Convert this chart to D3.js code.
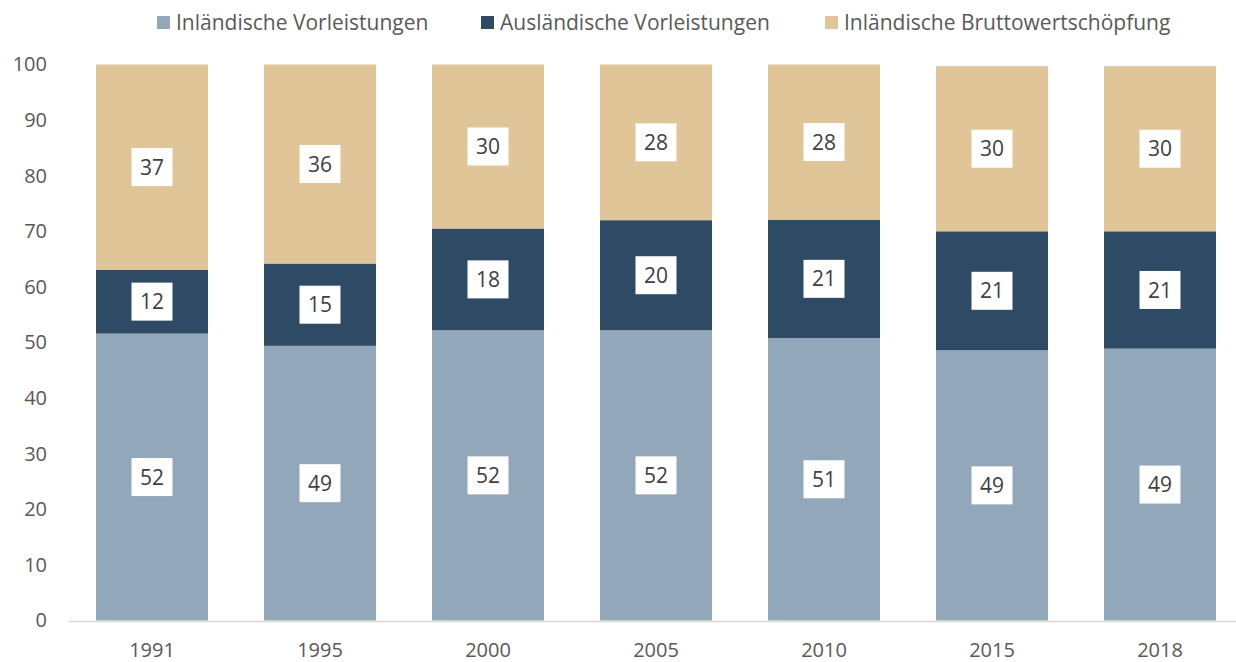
<!DOCTYPE html>
<html><head><meta charset="utf-8">
<script src="https://cdn.jsdelivr.net/npm/d3@7"></script>
<style>html,body{margin:0;padding:0;background:#fff;}svg{display:block;}</style>
</head><body>
<svg id="chart" width="1236" height="662"></svg>
<script>
const years = ["1991","1995","2000","2005","2010","2015","2018"];
const seriesNames = ["Inländische Vorleistungen","Ausländische Vorleistungen","Inländische Bruttowertschöpfung"];
const inlVor = [51.6, 49.4, 52.2, 52.2, 50.8, 48.6, 48.9];
const ausVor = [11.5, 14.8, 18.3, 19.8, 21.3, 21.4, 21.1];
const inlBWS = [36.9, 35.8, 29.5, 28.0, 27.9, 29.7, 29.7];
const yTicks = [0,10,20,30,40,50,60,70,80,90,100];
const colors = ["#93a7bb","#2e4a64","#e0c598"];

const FONT = "'Open Sans', Lato, sans-serif";
const svg = d3.select("#chart");
const table = years.map((y,i)=>({year:y, s0:inlVor[i], s1:ausVor[i], s2:inlBWS[i]}));
const keys = ["s0","s1","s2"];
const stacked = d3.stack().keys(keys)(table);

const x = d3.scaleBand().domain(years).range([68,1244]).paddingInner(1/3).paddingOuter(1/6);
const y = d3.scaleLinear().domain([0,100]).range([620.5,64.5]);

// y axis labels
const yAxis = svg.append("g").attr("transform","translate(47,0)")
  .call(d3.axisLeft(y).tickValues(yTicks).tickSize(0).tickPadding(0));
yAxis.select(".domain").remove();
yAxis.selectAll("text").attr("font-family",FONT).attr("font-size",20).attr("fill","#595959");

// bars
const g = svg.append("g");
stacked.forEach((layer,li)=>{
  g.selectAll(null).data(layer).enter().append("rect")
    .attr("x",d=>x(d.data.year))
    .attr("width",x.bandwidth())
    .attr("y",d=>y(d[1]))
    .attr("height",d=>y(d[0])-y(d[1]))
    .attr("fill",colors[li]);
});

// x axis
const xAxis = svg.append("g").attr("transform","translate(0,621)")
  .call(d3.axisBottom(x).tickSize(0).tickPadding(22));
xAxis.select(".domain").attr("stroke","#d9d9d9").attr("stroke-width",1.5);
xAxis.selectAll("text").attr("font-family",FONT).attr("font-size",20).attr("fill","#595959");

// data labels
stacked.forEach((layer,li)=>{
  layer.forEach(d=>{
    const cx = x(d.data.year)+x.bandwidth()/2;
    const cy = y((d[0]+d[1])/2);
    const lg = svg.append("g").attr("transform",`translate(${cx},${cy})`);
    lg.append("rect").attr("x",-20.5).attr("y",-19).attr("width",41).attr("height",38).attr("fill","#fff");
    lg.append("text").attr("text-anchor","middle").attr("dy","0.36em")
      .attr("font-family",FONT).attr("font-size",21).attr("fill","#404040")
      .text(Math.round(d[1]-d[0]));
  });
});

// legend
const legendX = [157, 481, 825];
const legend = svg.append("g");
seriesNames.forEach((n,i)=>{
  legend.append("rect").attr("x",legendX[i]).attr("y",16).attr("width",13).attr("height",13).attr("fill",colors[i]);
  legend.append("text").attr("x",legendX[i]+19).attr("y",29.5)
    .attr("font-family",FONT).attr("font-size",21).attr("fill","#595959").text(n);
});
</script>
</body></html>
